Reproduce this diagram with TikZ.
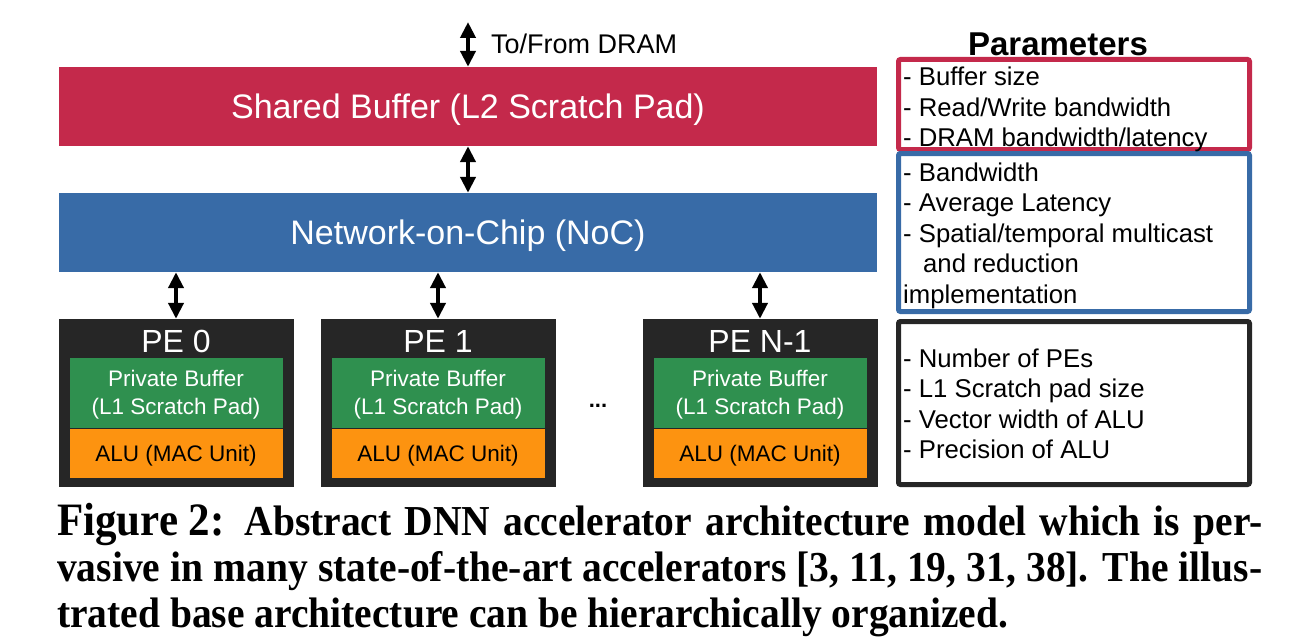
\documentclass[tikz,border=0pt]{standalone}
\usepackage{fontspec}
\setmainfont{Liberation Sans}
\newfontfamily\capfont{Liberation Serif}
\usetikzlibrary{arrows.meta}
\definecolor{sbred}{HTML}{C4294B}
\definecolor{nocblue}{HTML}{386BA7}
\definecolor{pegreen}{HTML}{2F904F}
\definecolor{aluorange}{HTML}{FD9310}
\definecolor{pedark}{HTML}{262626}
\begin{document}
\begin{tikzpicture}[x=1pt,y=-1pt,
  dbl/.style={{Triangle[length=16pt,width=15pt]}-{Triangle[length=16pt,width=15pt]}, line width=4pt, black},
  bigbox/.style={inner sep=0pt, minimum width=818pt, minimum height=79pt, text=white, text depth=0pt, font=\fontsize{34}{40}\selectfont},
  pebox/.style={fill=pedark, draw=pedark, inner sep=0pt, minimum width=234pt, minimum height=167pt},
  petitle/.style={inner sep=0pt, text=white, font=\fontsize{32}{38}\selectfont},
  bufbox/.style={fill=pegreen, draw=pedark, line width=0.8pt, inner sep=0pt, minimum width=214pt, minimum height=71pt, text=white, text depth=0pt, align=center, font=\fontsize{22.5}{28}\selectfont},
  alubox/.style={fill=aluorange, draw=pedark, line width=0.8pt, inner sep=0pt, minimum width=214pt, minimum height=50pt, text=black, text depth=0pt, font=\fontsize{22.5}{28}\selectfont},
  parbox/.style={line width=5pt, rounded corners=2pt, inner sep=0pt, minimum width=351pt},
  partext/.style={inner sep=0pt, anchor=west, align=left, font=\fontsize{25.7}{30.5}\selectfont},
  capline/.style={inner sep=0pt, anchor=base west, font=\capfont\bfseries\fontsize{39.5}{46}\selectfont}
]
\useasboundingbox (0,0) rectangle (1310,642);

% main boxes
\node[bigbox, fill=sbred] (sb) at (468,106.5) {Shared Buffer (L2 Scratch Pad)};
\node[bigbox, fill=nocblue] (noc) at (468,232.5) {Network-on-Chip (NoC)};

\coordinate (dram) at (468,22);
\draw[dbl] (dram) -- (sb.north);
\node[inner sep=0pt, anchor=base west, font=\fontsize{27}{30}\selectfont] (dramlbl) at (491,54) {To/From DRAM};
\draw[dbl] (sb.south) -- (noc.north);

% PEs
\foreach \nm/\cx/\lbl in {pe0/176/{PE 0}, pe1/438/{PE 1}, pen/760/{PE N-1}} {
  \node[pebox] (\nm) at (\cx,402.5) {};
  \node[petitle] (\nm t) at (\cx,341) {\lbl};
  \node[bufbox] (\nm b) at (\cx,392.5) {Private Buffer\\(L1 Scratch Pad)};
  \node[alubox] (\nm a) at (\cx,453) {ALU (MAC Unit)};
  \draw[dbl] (\nm.north |- noc.south) -- (\nm.north);
}
\node[inner sep=0pt, font=\bfseries\fontsize{22}{26}\selectfont] (dots) at (598,406) {...};

% parameters
\node[inner sep=0pt, font=\bfseries\fontsize{33}{38}\selectfont] (ptitle) at (1058,44) {Parameters};
\node[parbox, draw=sbred, minimum height=90pt] (p1) at (1074,104.5) {};
\node[parbox, draw=nocblue, minimum height=158pt] (p2) at (1074,232.5) {};
\node[parbox, draw=pedark, minimum height=163pt] (p3) at (1074,403) {};
\node[partext] (t1) at (903,109.5) {- Buffer size\\- Read/Write bandwidth\\- DRAM bandwidth/latency};
\node[partext] (t2) at (903,235.5) {- Bandwidth\\- Average Latency\\- Spatial/temporal multicast\\\hspace*{20pt}and reduction\\implementation};
\node[partext] (t3) at (903,404) {- Number of PEs\\- L1 Scratch pad size\\- Vector width of ALU\\- Precision of ALU};

% caption
\node[capline] (cap1) at (57,535) {\scalebox{1}[1.08]{\makebox[1205pt][s]{{\fontsize{43}{46}\selectfont Figure\hspace{0.25em}2:} Abstract DNN accelerator architecture model which is per-}}};
\node[capline] (cap2) at (57,581) {\scalebox{1}[1.08]{\makebox[1205pt][s]{vasive in many state-of-the-art accelerators [3, 11, 19, 31, 38]. The illus-}}};
\node[capline] (cap3) at (57,627) {\scalebox{1}[1.08]{trated base architecture can be hierarchically organized.}};
\end{tikzpicture}
\end{document}
